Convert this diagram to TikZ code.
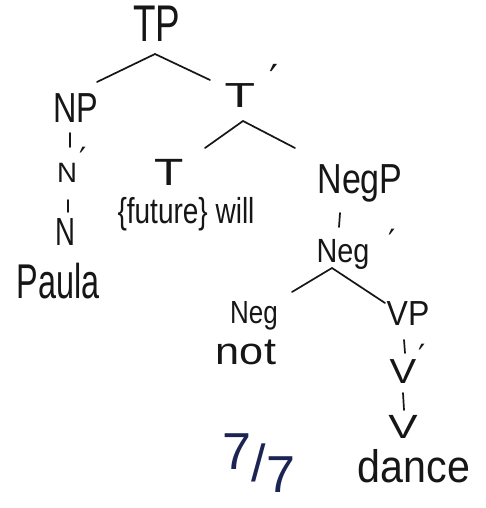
\documentclass[tikz,border=0pt]{standalone}
\usepackage{fontspec}
\setmainfont{Liberation Sans}
\newfontfamily\prfont{DejaVu Sans}
\usepackage{graphicx}
\definecolor{ink}{RGB}{22,22,22}
\definecolor{navy}{RGB}{28,36,84}
\newcommand\sx[3]{\scalebox{#1}[#2]{#3}}
\newcommand\pr[3]{\rlap{\kern#1\raisebox{#2}{\fontsize{#3}{#3}\prfont\char"2032}}}
\begin{document}
\begin{tikzpicture}[x=1pt,y=-1pt,
  lab/.style={anchor=base, inner sep=0pt, font=\fontsize{40}{40}\selectfont, text=ink},
  br/.style={draw=ink, line width=1.7pt, line cap=round}]
\fill[white] (0,0) rectangle (485,508);
\useasboundingbox (0,0) rectangle (485,508);

% nodes
\node[lab] (tp)    at (157,42)  {\sx{0.92}{1.29}{TP}};
\node[lab] (np)    at (76,122)  {\sx{0.81}{1.05}{NP}};
\node[lab] (nbar)  at (67,182)  {\sx{0.69}{0.70}{N}\pr{3pt}{12pt}{32}};
\node[lab] (n)     at (65,245)  {\sx{0.69}{0.98}{N}};
\node[lab] (paula) at (58,298)  {\sx{0.81}{1.22}{Paula}};
\node[lab] (tbar)  at (240,108) {\sx{1.25}{0.87}{T}\pr{14pt}{14pt}{40}};
\node[lab] (t)     at (169,185) {\sx{1.2}{0.95}{T}};
\node[lab] (will)  at (186,223) {\sx{0.70}{0.90}{\{future\} will}};
\node[lab] (negp)  at (360,193) {\sx{0.85}{1.05}{NegP}};
\node[lab] (negbar) at (343,262) {\sx{0.72}{0.84}{Neg}\pr{19pt}{10pt}{32}};
\node[lab] (neg)   at (254,323) {\sx{0.65}{0.80}{Neg}};
\node[lab] (not)   at (246,364) {\sx{1.08}{0.95}{not}};
\node[lab] (vp)    at (408,325) {\sx{0.80}{0.87}{VP}};
\node[lab] (vbar)  at (403,383) {\sx{1.0}{0.87}{V}\pr{2pt}{16pt}{32}};
\node[lab] (v)     at (403,438) {\sx{1.1}{0.84}{V}};
\node[lab] (dance) at (414,482) {\sx{1.03}{1.14}{dance}};
\node[lab, text=navy] (score) at (259,481)
  {\sx{1.3}{1.3}{\raisebox{9pt}{7}/\raisebox{-9pt}{7}}};

% branches
\draw[br] ([shift={(-2,12)}]tp.base) -- ([shift={(21,-40)}]np.base);
\draw[br] ([shift={(-2,12)}]tp.base) -- ([shift={(-30,-28)}]tbar.base);
\draw[br] ([shift={(3,13)}]tbar.base) -- ([shift={(36,-37)}]t.base);
\draw[br] ([shift={(3,13)}]tbar.base) -- ([shift={(-65,-45)}]negp.base);
\draw[br] ([shift={(-6,11)}]np.base) -- ([shift={(3,-35)}]nbar.base);
\draw[br] ([shift={(1,18)}]nbar.base) -- ([shift={(3,-33)}]n.base);
\draw[br] ([shift={(-20,20)}]negp.base) -- ([shift={(-4,-35)}]negbar.base);
\draw[br] ([shift={(-11,6)}]negbar.base) -- ([shift={(38,-31)}]neg.base);
\draw[br] ([shift={(-11,6)}]negbar.base) -- ([shift={(-23,-22)}]vp.base);
\draw[br] ([shift={(-4,15)}]vp.base) -- ([shift={(2,-30)}]vbar.base);
\draw[br] ([shift={(0,10)}]vbar.base) -- ([shift={(1,-28)}]v.base);
\end{tikzpicture}
\end{document}
